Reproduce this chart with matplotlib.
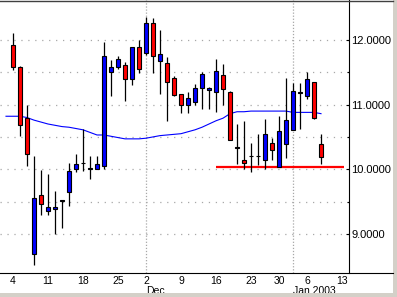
import matplotlib
matplotlib.use('Agg')
import matplotlib.pyplot as plt
from matplotlib.lines import Line2D
from matplotlib.patches import Rectangle

plt.rcParams['font.family'] = ['Liberation Sans', 'DejaVu Sans']
plt.rcParams['lines.scale_dashes'] = False

# trading days, Nov 4 2002 .. Jan 8 2003
dates = ['2002-11-04', '2002-11-05', '2002-11-06', '2002-11-07', '2002-11-08',
         '2002-11-11', '2002-11-12', '2002-11-13', '2002-11-14', '2002-11-15',
         '2002-11-18', '2002-11-19', '2002-11-20', '2002-11-21', '2002-11-22',
         '2002-11-25', '2002-11-26', '2002-11-27', '2002-11-29',
         '2002-12-02', '2002-12-03', '2002-12-04', '2002-12-05', '2002-12-06',
         '2002-12-09', '2002-12-10', '2002-12-11', '2002-12-12', '2002-12-13',
         '2002-12-16', '2002-12-17', '2002-12-18', '2002-12-19', '2002-12-20',
         '2002-12-23', '2002-12-24', '2002-12-26', '2002-12-27',
         '2002-12-30', '2002-12-31', '2003-01-02', '2003-01-03',
         '2003-01-06', '2003-01-07', '2003-01-08']
opens = [11.92, 11.59, 10.79, 8.68, 9.60, 9.36, 9.39, 9.51, 9.65, 10.00,
         10.09, 10.00, 10.00, 10.05, 11.50, 11.59, 11.62, 11.39, 11.90,
         11.80, 12.26, 11.68, 11.64, 11.42, 11.16, 11.00, 11.04, 11.25, 11.23,
         11.19, 11.46, 11.19, 10.33, 10.14, 10.20, 10.20, 10.14, 10.40,
         10.04, 10.39, 10.60, 11.18, 11.14, 11.35, 10.39]
highs = [12.11, 11.60, 11.00, 10.20, 9.99, 9.93, 9.66, 9.53, 10.09, 10.24,
         10.63, 10.20, 10.20, 11.97, 11.69, 11.75, 11.66, 11.89, 12.00,
         12.36, 12.34, 12.15, 11.74, 11.44, 11.16, 11.20, 11.32, 11.50, 11.28,
         11.71, 11.63, 11.21, 10.70, 10.75, 10.40, 10.54, 10.78, 10.49,
         10.82, 11.42, 11.34, 11.34, 11.50, 11.35, 10.54]
lows = [11.54, 10.51, 10.05, 8.51, 9.29, 9.29, 8.99, 9.09, 9.43, 9.95,
        9.98, 9.85, 10.00, 10.00, 11.13, 11.55, 11.06, 11.31, 11.49,
        11.77, 11.49, 11.16, 10.75, 11.13, 10.87, 10.87, 11.00, 10.94, 10.94,
        10.89, 11.00, 10.46, 10.08, 10.00, 9.96, 10.07, 10.00, 10.15,
        10.04, 10.17, 10.60, 10.63, 11.09, 10.78, 10.08]
closes = [11.59, 10.68, 10.23, 9.55, 9.46, 9.41, 9.42, 9.53, 9.97, 10.08,
          10.10, 10.01, 10.08, 11.75, 11.59, 11.70, 11.39, 11.89, 11.55,
          12.27, 11.76, 11.79, 11.35, 11.15, 11.00, 11.11, 11.25, 11.47, 11.25,
          11.52, 11.24, 10.46, 10.34, 10.09, 10.21, 10.21, 10.54, 10.29,
          10.59, 10.76, 11.21, 11.19, 11.39, 10.80, 10.19]

# moving average, starting one session before Nov 4
ma_values = [10.82, 10.82, 10.82, 10.80, 10.76, 10.73, 10.70, 10.68, 10.66, 10.65,
             10.63, 10.61, 10.57, 10.53, 10.53, 10.51, 10.49, 10.47, 10.47, 10.47,
             10.48, 10.50, 10.52, 10.53, 10.54, 10.55, 10.58, 10.61, 10.65, 10.70,
             10.75, 10.79, 10.86, 10.89, 10.89, 10.90, 10.90, 10.90, 10.90, 10.90,
             10.90, 10.88, 10.88, 10.88, 10.88, 10.86]

support_level = 10.04

# x ticks (session index) and labels
tick_pos = [0, 5, 10, 15, 19, 24, 29, 34, 38, 42, 47]
tick_labels = ['4', '11', '18', '25', '2', '9', '16', '23', '30', '6', '13']
month_pos = [19, 40]
month_labels = ['Dec', 'Jan 2003']
y_major = [9.0, 10.0, 11.0, 12.0]
y_minor = [9.5, 10.5, 11.5]
y_grid = [9.0, 9.5, 10.0, 10.5, 11.0, 11.5, 12.0]

W, H = 397, 297
fig = plt.figure(figsize=(W / 100, H / 100), dpi=100)
ax = fig.add_axes([0, 24 / H, 349 / W, 273 / H])

x = list(range(len(dates)))

# grid
for g in y_grid:
    ax.axhline(g, color='#a8a8a8', lw=0.9, ls=(0, (0.9, 4.1)), zorder=0)
for m in month_pos:
    ax.axvline(m, color='#a8a8a8', lw=0.9, ls=(0, (0.9, 1.3)), zorder=0)

# moving average
ax.plot(range(-1, len(ma_values) - 1), ma_values, color='#0000ff', lw=0.8, zorder=2)

# support line
ax.hlines(support_level, 29, 47.3, color='#ff0000', lw=1.6, zorder=2)

# candles
ax.vlines(x, lows, highs, color='black', lw=0.9, zorder=3)
bottoms = [min(o, c) for o, c in zip(opens, closes)]
heights = [max(abs(c - o), 0.012) for o, c in zip(opens, closes)]
colors = ['#0000ff' if c >= o else '#ff0000' for o, c in zip(opens, closes)]
ax.bar(x, heights, bottom=bottoms, width=0.56, color=colors,
       edgecolor='black', linewidth=0.8, zorder=4)

ax.set_xlim(-1.857, 48.0)
ax.set_ylim(8.393, 12.62)

for s in ['top', 'left', 'bottom']:
    ax.spines[s].set_visible(False)
ax.spines['right'].set_linewidth(0.8)

ax.yaxis.tick_right()
ax.set_yticks(y_major)
ax.set_yticklabels(['%.4f' % v for v in y_major])
ax.set_yticks(y_minor, minor=True)
ax.tick_params(axis='y', which='major', direction='in', length=2.4, width=0.8,
               pad=1.5, labelsize=8)
ax.tick_params(axis='y', which='minor', direction='in', length=1.5, width=0.8)

ax.set_xticks(tick_pos)
ax.set_xticklabels(tick_labels)
ax.tick_params(axis='x', length=0, pad=2.0, labelsize=7.5)

for p, lab in zip(month_pos, month_labels):
    ax.text(p, -12.8 / 273, lab, transform=ax.get_xaxis_transform(),
            ha='left', va='top', fontsize=7.5)

# window frame bits
fig.add_artist(Line2D([0, 393 / W], [24 / H, 24 / H], color='black', lw=0.8))
fig.add_artist(Line2D([0, 393 / W], [1 - 0.6 / H, 1 - 0.6 / H], color='#404040', lw=1.0))
fig.add_artist(Rectangle((393 / W, 0), 4 / W, 1, color='#d4d0c8', lw=0))
fig.add_artist(Rectangle((0, 0), 1, 4 / H, color='#d4d0c8', lw=0))

fig.savefig('out.png', dpi=100)
